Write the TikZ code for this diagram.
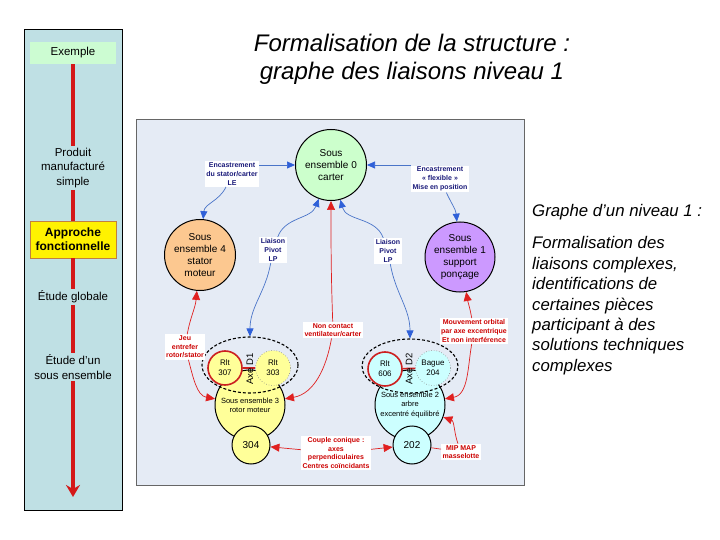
\documentclass[tikz,border=0pt]{standalone}
\usepackage{fontspec}
\setmainfont{Liberation Sans}
\usetikzlibrary{arrows.meta,shapes.geometric}
\definecolor{panelbg}{HTML}{E5EBF5}
\definecolor{leftbg}{HTML}{BFE0E4}
\definecolor{exgreen}{HTML}{CCFCD2}
\definecolor{arrowred}{HTML}{D41818}
\definecolor{apprborder}{HTML}{C08040}
\definecolor{cgreen}{HTML}{CCFFCC}
\definecolor{corange}{HTML}{FCC890}
\definecolor{cpurple}{HTML}{CC99FF}
\definecolor{cyellow}{HTML}{FFFF99}
\definecolor{ccyan}{HTML}{CCFFFF}
\definecolor{blueline}{HTML}{4A74C8}
\definecolor{bluehead}{HTML}{2F60D8}
\definecolor{navytext}{HTML}{1A1A7A}
\definecolor{redline}{HTML}{E02020}
\definecolor{redtext}{HTML}{CC0000}
\definecolor{ringred}{HTML}{CC2020}
\begin{document}
\begin{tikzpicture}[x=1pt,y=-1pt,
  circ/.style={circle,draw=black,line width=1pt,inner sep=0pt,align=center},
  bigtxt/.style={font=\fontsize{10}{12}\selectfont},
  smalltxt/.style={font=\fontsize{7.5}{9.2}\selectfont},
  rlttxt/.style={font=\fontsize{8}{10}\selectfont},
  blab/.style={fill=white,inner sep=1.5pt,align=center,font=\fontsize{7}{8.8}\selectfont\bfseries,text=navytext},
  rlab/.style={fill=white,inner sep=1.5pt,align=center,font=\fontsize{7}{8.6}\selectfont\bfseries,text=redtext},
  barr/.style={draw=blueline,line width=0.7pt,-{Triangle[length=8pt,width=7pt,color=bluehead]}},
  rarr/.style={draw=redline,line width=0.7pt,-{Triangle[length=9pt,width=8pt,color=redline]}},
  rline/.style={draw=redline,line width=0.7pt},
  lefttxt/.style={align=center,font=\fontsize{11.5}{14.5}\selectfont,fill=leftbg,inner sep=2pt},
  bigarrow/.style={draw=arrowred,line width=3.5pt},
  dashell/.style={ellipse,draw=black,line width=1.1pt,dash pattern=on 3pt off 2pt,inner sep=0pt}
]
\useasboundingbox (0,0) rectangle (720,540);

% ---------- left panel ----------
\draw[black,line width=0.8pt,fill=leftbg] (24,29) rectangle (122,510);
\node[fill=exgreen,minimum width=86pt,minimum height=22pt,inner sep=0pt,font=\fontsize{11.5}{14}\selectfont] (ex) at (73,53) {Exemple};
\node[lefttxt] (prod) at (73,168) {Produit\\manufacturé\\simple};
\node[draw=apprborder,line width=0.8pt,fill=yellow,minimum width=86pt,minimum height=37pt,inner sep=0pt,align=center,font=\fontsize{12}{14}\selectfont\bfseries] (appr) at (73,239.5) {Approche\\fonctionnelle};
\node[lefttxt] (glob) at (73,297) {Étude globale};
\node[lefttxt] (sous) at (73,367) {Étude d'un\\sous ensemble};
\coordinate (tip) at (73,497);
\draw[bigarrow] (ex) -- (prod);
\draw[bigarrow] (prod) -- (appr);
\draw[bigarrow] (appr) -- (glob);
\draw[bigarrow] (glob) -- (sous);
\draw[bigarrow,-{Stealth[length=12pt,width=14pt,inset=4pt]}] (sous) -- (tip);

% ---------- titles ----------
\node[align=center,font=\fontsize{24}{28}\selectfont\itshape] (title) at (412,59) {Formalisation de la structure :\\graphe des liaisons niveau 1};
\node[anchor=base west,inner sep=0pt,font=\fontsize{16.8}{20.4}\selectfont\itshape] (rt1) at (532,217) {Graphe d'un niveau 1 :};
\node[anchor=north west,inner sep=0pt,align=left,font=\fontsize{16.8}{20.4}\selectfont\itshape] (rt2) at (532,236.5) {Formalisation des\\liaisons complexes,\\identifications de\\certaines pièces\\participant à des\\solutions techniques\\complexes};

% ---------- diagram panel ----------
\draw[draw=gray!80!black,line width=0.8pt,fill=panelbg] (136,119) rectangle (524,485);

\node[circ,fill=cgreen,minimum size=71pt,bigtxt] (car) at (331,165) {Sous\\ensemble 0\\carter};
\node[circ,fill=corange,minimum size=71pt,bigtxt] (se4) at (200,255) {Sous\\ensemble 4\\stator\\moteur};
\node[circ,fill=cpurple,minimum size=70pt,bigtxt] (se1) at (460,257) {Sous\\ensemble 1\\support\\ponçage};

% left sub-assembly
\node[circ,fill=cyellow,minimum size=70pt,smalltxt] (se3) at (250,405) {Sous ensemble 3\\rotor moteur};
\node[circ,fill=cyellow,minimum size=38pt,font=\fontsize{10}{12}\selectfont] (n304) at (251,445) {304};
\node[circ,fill=cyellow,draw=ringred,line width=1.6pt,minimum size=34pt,rlttxt] (r307) at (225,368) {Rlt\\307};
\node[circ,fill=cyellow,draw=gray,line width=0.6pt,dotted,minimum size=35pt,rlttxt] (r303) at (273,368) {Rlt\\303};
\draw[draw=ringred,line width=1.6pt] (r307) -- (r303);
\node[dashell,minimum width=96pt,minimum height=56pt] (ell1) at (250,365) {};
\node[rotate=90,inner sep=0pt,font=\fontsize{9.5}{10}\selectfont] (axe1) at (250,369) {Axe D1};

% right sub-assembly
\node[circ,fill=ccyan,minimum size=70pt,smalltxt] (se2) at (410,405) {Sous ensemble 2\\arbre\\excentré équilibré};
\node[circ,fill=ccyan,minimum size=38pt,font=\fontsize{10}{12}\selectfont] (n202) at (412,445) {202};
\node[circ,fill=ccyan,draw=ringred,line width=1.6pt,minimum size=34pt,rlttxt] (r606) at (385,369) {Rlt\\606};
\node[circ,fill=ccyan,draw=gray,line width=0.6pt,dotted,minimum size=35pt,rlttxt] (b204) at (433,368) {Bague\\204};
\draw[draw=ringred,line width=1.6pt] (r606) -- (b204);
\node[dashell,minimum width=96pt,minimum height=54pt] (ell2) at (410,366) {};
\node[rotate=90,inner sep=0pt,font=\fontsize{9.5}{10}\selectfont] (axe2) at (409,369) {Axe D2};

% labels
\node[blab] (lab1) at (232,174) {Encastrement\\du stator/carter\\LE};
\node[blab] (lab2) at (440,179) {Encastrement\\« flexible »\\Mise en position};
\node[blab] (lab3) at (273,250) {Liaison\\Pivot\\LP};
\node[blab] (lab4) at (388,251) {Liaison\\Pivot\\LP};
\node[rlab] (lab5) at (333,330) {Non contact\\ventilateur/carter};
\node[rlab] (lab6) at (185,347) {Jeu\\entrefer\\rotor/stator};
\node[rlab] (lab7) at (474,331) {Mouvement orbital\\par axe excentrique\\Et non interférence};
\node[rlab] (lab8) at (336,453) {Couple conique :\\axes\\perpendiculaires\\Centres coïncidants};
\node[rlab] (lab9) at (461,452) {MIP MAP\\masselotte};

% blue connectors
\draw[barr] (lab1.east |- car.west) -- (car.west);
\draw[barr] (lab1) to[out=-115,in=85] (se4);
\draw[barr] (lab2.west |- car.east) -- (car.east);
\draw[barr] (lab2) to[out=-65,in=95] (se1);
\draw[barr] (lab3) to[out=70,in=250] (car);
\draw[barr] (lab3) to[out=-100,in=90] (ell1);
\draw[barr] (lab4) to[out=110,in=-75] (car);
\draw[barr] (lab4) to[out=-80,in=90] (ell2);

% red connectors
\draw[rarr] (lab5) to[out=92,in=-90] (car);
\draw[rarr] (lab5) to[out=-100,in=10] (se3);
\draw[rarr] (lab6) to[out=80,in=-95] (se4);
\draw[rarr] (lab6) to[out=-75,in=170] (se3);
\draw[rarr] (lab7) to[out=100,in=-80] (se1);
\draw[rarr] (lab7) to[out=-100,in=10] (se2);
\draw[rarr] (lab8) -- (n304);
\draw[rarr] (lab8) -- (n202);
\draw[rarr] (lab9) to[out=110,in=-20] (se2);
\draw[rline] (n202) -- (lab9);
\end{tikzpicture}
\end{document}
